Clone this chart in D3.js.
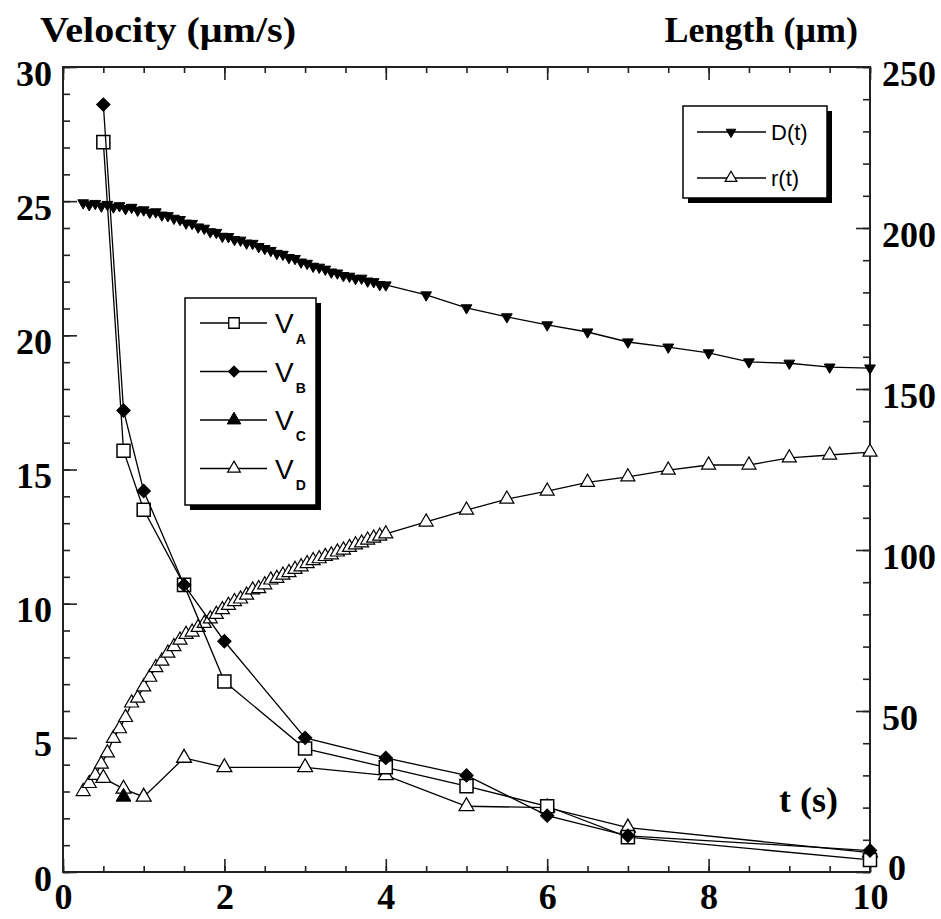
<!DOCTYPE html>
<html>
<head>
<meta charset="utf-8">
<script src="https://cdn.jsdelivr.net/npm/d3@7"></script>
<style>
	body { margin: 0; background: #fff; }
	svg { display: block; }
	.tick-label { font-family: 'Liberation Serif', serif; font-weight: bold; font-size: 36px; fill: #000; }
	.legend-text { font-family: 'Liberation Sans', sans-serif; fill: #000; }
</style>
</head>
<body>
<div id="chart"></div>
<script>
// time points for the velocities (s)
const velTimes = [0.5, 0.75, 1, 1.5, 2, 3, 4, 5, 6, 7, 10]
const vA = [27.2, 15.7, 13.5, 10.7, 7.1, 4.6, 3.9, 3.2, 2.45, 1.3, 0.45]
const vB = [28.6, 17.2, 14.2, 10.7, 8.6, 5.0, 4.25, 3.6, 2.1, 1.35, 0.8]
const vCTimes = [0.75]
const vC = [2.8]
const vD = [3.5, 3.1, 2.8, 4.25, 3.9, 3.9, 3.6, 2.45, 2.4, 1.65, 0.72]

// length measurements (um), dense part then every 0.5 s
const lenTimes = [0.25, 0.325, 0.4, 0.475, 0.55, 0.625, 0.7, 0.775, 0.85, 0.925, 1.0,
	1.075, 1.15, 1.225, 1.3, 1.375, 1.45, 1.525, 1.6, 1.675, 1.75, 1.825, 1.9, 1.975,
	2.05, 2.125, 2.2, 2.275, 2.35, 2.425, 2.5, 2.575, 2.65, 2.725, 2.8, 2.875, 2.95,
	3.025, 3.1, 3.175, 3.25, 3.325, 3.4, 3.475, 3.55, 3.625, 3.7, 3.775, 3.85, 3.925, 4.0,
	4.5, 5, 5.5, 6, 6.5, 7, 7.5, 8, 8.5, 9, 9.5, 10]
const dLen = [207.8, 207.2, 207.6, 206.8, 207.3, 206.5, 206.9, 206.0, 206.4, 205.5, 205.6,
	204.8, 205.0, 204.0, 203.8, 203.0, 202.6, 201.5, 201.4, 200.3, 199.9, 198.8, 198.6, 197.4,
	197.3, 196.4, 196.2, 195.3, 195.2, 194.2, 193.6, 193.0, 192.1, 191.8, 190.8, 190.5, 189.4,
	189.0, 188.1, 187.8, 187.2, 186.3, 186.0, 185.2, 185.0, 184.3, 184.4, 183.5, 183.3, 182.4, 182.3,
	179.2, 175.2, 172.4, 169.9, 167.7, 164.6, 163.0, 161.2, 158.4, 158.0, 156.8, 156.5]
const rLen = [25.0, 27.5, 30.0, 33.5, 37.0, 41.5, 44.5, 48.0, 52.5, 54.0, 57.5,
	60.5, 63.5, 65.5, 68.0, 70.0, 72.0, 73.8, 74.5, 76.0, 77.2, 78.6, 80.0, 81.5,
	82.8, 84.0, 84.8, 86.0, 87.6, 88.0, 89.2, 90.7, 91.2, 92.2, 93.0, 94.0, 94.8,
	95.8, 96.7, 97.3, 98.0, 98.5, 99.4, 100.0, 100.8, 101.6, 102.2, 103.1, 103.7, 104.3, 105.0,
	108.7, 112.4, 115.8, 118.3, 121.0, 122.7, 124.8, 126.4, 126.4, 128.6, 129.5, 130.4]

const tTicks = [0, 2, 4, 6, 8, 10]
const velTicks = [0, 5, 10, 15, 20, 25, 30]
const lenTicks = [0, 50, 100, 150, 200, 250]

const width = 941, height = 919
const plotL = 63, plotR = 870, plotT = 67, plotB = 872

const svg = d3.select('#chart').append('svg')
	.attr('width', width).attr('height', height)

const x = d3.scaleLinear().domain([0, 10]).range([plotL, plotR])
const yV = d3.scaleLinear().domain([0, 30]).range([plotB, plotT])
const yL = d3.scaleLinear().domain([0, 250]).range([plotB, plotT])

// axes: minor ticks first, then major ticks with labels
const minorT = d3.range(0, 10.001, 0.5)
const minorV = d3.range(0, 30.001, 1)
const minorL = d3.range(0, 250.001, 10)

const addAxis = (axis, transform, labelDy) => {
	const g = svg.append('g').attr('transform', transform).call(axis)
	g.select('.domain').remove()
	g.selectAll('.tick line').attr('stroke', '#222').attr('stroke-width', 1.6)
	g.attr('font-size', null).attr('font-family', null)
	g.selectAll('.tick text').attr('class', 'tick-label').attr('fill', null)
	if (labelDy) g.selectAll('.tick text').attr('dy', labelDy)
	return g
}

addAxis(d3.axisBottom(x).tickValues(minorT).tickSize(-6).tickFormat(''), `translate(0,${plotB})`)
addAxis(d3.axisBottom(x).tickValues(tTicks).tickSize(-13).tickPadding(11).tickFormat(d3.format('d')), `translate(0,${plotB})`)
addAxis(d3.axisTop(x).tickValues(minorT).tickSize(-6).tickFormat(''), `translate(0,${plotT})`)
addAxis(d3.axisTop(x).tickValues(tTicks).tickSize(-13).tickFormat(''), `translate(0,${plotT})`)

addAxis(d3.axisLeft(yV).tickValues(minorV).tickSize(-7).tickFormat(''), `translate(${plotL},0)`)
addAxis(d3.axisLeft(yV).tickValues(velTicks).tickSize(-14).tickPadding(11).tickFormat(d3.format('d')), `translate(${plotL},0)`, '0.5em')

addAxis(d3.axisRight(yL).tickValues(minorL).tickSize(-7).tickFormat(''), `translate(${plotR},0)`)
const rightAxis = addAxis(d3.axisRight(yL).tickValues(lenTicks).tickSize(-14).tickPadding(12).tickFormat(d3.format('d')), `translate(${plotR},0)`, '0.5em')
// the bottom "0" of the length axis sits a little up and right, clear of the "10"
rightAxis.selectAll('.tick text').filter(d => d === 0).attr('dx', 6).attr('dy', '0.2em')

svg.append('rect')
	.attr('x', plotL).attr('y', plotT)
	.attr('width', plotR - plotL).attr('height', plotB - plotT)
	.attr('fill', 'none').attr('stroke', '#222').attr('stroke-width', 2)

// axis titles
svg.append('text').attr('class', 'tick-label')
	.attr('x', 40).attr('y', 42).attr('textLength', 256).attr('lengthAdjust', 'spacingAndGlyphs')
	.text('Velocity (μm/s)')
svg.append('text').attr('class', 'tick-label')
	.attr('x', 858).attr('y', 42).attr('text-anchor', 'end')
	.text('Length (μm)')
svg.append('text').attr('class', 'tick-label')
	.attr('x', 779).attr('y', 812)
	.text('t (s)')

// series
const sym = (type, size) => d3.symbol().type(type).size(size)()

const drawSeries = (times, values, yScale, marker) => {
	const pts = times.map((t, i) => [t, values[i]])
	svg.append('path')
		.attr('fill', 'none').attr('stroke', '#000').attr('stroke-width', 1.3)
		.attr('d', d3.line().x(d => x(d[0])).y(d => yScale(d[1]))(pts))
	svg.append('g').selectAll('path')
		.data(pts)
		.join('path')
		.attr('d', marker.d)
		.attr('transform', d => `translate(${x(d[0])},${yScale(d[1])}) rotate(${marker.rotate || 0})`)
		.attr('fill', marker.fill)
		.attr('stroke', '#000')
		.attr('stroke-width', marker.sw || 1.3)
}

const markers = {
	square: { d: sym(d3.symbolSquare, 170), fill: '#fff', sw: 1.5 },
	diamond: { d: sym(d3.symbolSquare, 90), fill: '#000', rotate: 45, sw: 1 },
	triUp: { d: sym(d3.symbolTriangle, 95), fill: '#000', sw: 1 },
	triOpen: { d: sym(d3.symbolTriangle, 95), fill: '#fff', sw: 1.3 },
	triDown: { d: sym(d3.symbolTriangle, 50), fill: '#000', rotate: 180, sw: 1 },
	rOpen: { d: sym(d3.symbolTriangle, 85), fill: '#fff', sw: 1.2 }
}

drawSeries(lenTimes, rLen, yL, markers.rOpen)
drawSeries(lenTimes, dLen, yL, markers.triDown)
drawSeries(velTimes, vD, yV, markers.triOpen)
drawSeries(vCTimes, vC, yV, markers.triUp)
drawSeries(velTimes, vA, yV, markers.square)
drawSeries(velTimes, vB, yV, markers.diamond)

// legends
const legendBox = (bx, by, bw, bh) => {
	svg.append('rect').attr('x', bx + 5).attr('y', by + 5).attr('width', bw).attr('height', bh).attr('fill', '#000')
	svg.append('rect').attr('x', bx).attr('y', by).attr('width', bw).attr('height', bh)
		.attr('fill', '#fff').attr('stroke', '#000').attr('stroke-width', 1.5)
}

const velLegend = [
	{ sub: 'A', marker: { d: sym(d3.symbolSquare, 110), fill: '#fff', sw: 1.3 } },
	{ sub: 'B', marker: { d: sym(d3.symbolSquare, 60), fill: '#000', rotate: 45, sw: 1 } },
	{ sub: 'C', marker: { d: sym(d3.symbolTriangle, 80), fill: '#000', sw: 1 } },
	{ sub: 'D', marker: { d: sym(d3.symbolTriangle, 70), fill: '#fff', sw: 1.2 } }
]
legendBox(185, 298, 131, 207)
velLegend.forEach((e, i) => {
	const cy = 323 + i * 48.5
	svg.append('line').attr('x1', 200).attr('x2', 267).attr('y1', cy).attr('y2', cy)
		.attr('stroke', '#000').attr('stroke-width', 1.3)
	svg.append('path').attr('d', e.marker.d)
		.attr('transform', `translate(234,${cy}) rotate(${e.marker.rotate || 0})`)
		.attr('fill', e.marker.fill).attr('stroke', '#000').attr('stroke-width', e.marker.sw)
	const t = svg.append('text').attr('class', 'legend-text').attr('x', 275).attr('y', cy + 10)
	t.append('tspan').attr('font-size', 28).text('V')
	t.append('tspan').attr('font-size', 14).attr('font-weight', 'bold').attr('dx', 2).attr('dy', 11).text(e.sub)
})

const lenLegend = [
	{ label: 'D(t)', marker: { d: sym(d3.symbolTriangle, 40), fill: '#000', rotate: 180, sw: 1 } },
	{ label: 'r(t)', marker: { d: sym(d3.symbolTriangle, 60), fill: '#fff', sw: 1.2 } }
]
legendBox(683, 106, 144, 92)
lenLegend.forEach((e, i) => {
	const cy = 132 + i * 46
	svg.append('line').attr('x1', 697).attr('x2', 766).attr('y1', cy).attr('y2', cy)
		.attr('stroke', '#000').attr('stroke-width', 1.3)
	svg.append('path').attr('d', e.marker.d)
		.attr('transform', `translate(731,${cy}) rotate(${e.marker.rotate || 0})`)
		.attr('fill', e.marker.fill).attr('stroke', '#000').attr('stroke-width', e.marker.sw)
	svg.append('text').attr('class', 'legend-text').attr('x', 771).attr('y', cy + 8)
		.attr('font-size', 22).text(e.label)
})
</script>
</body>
</html>
